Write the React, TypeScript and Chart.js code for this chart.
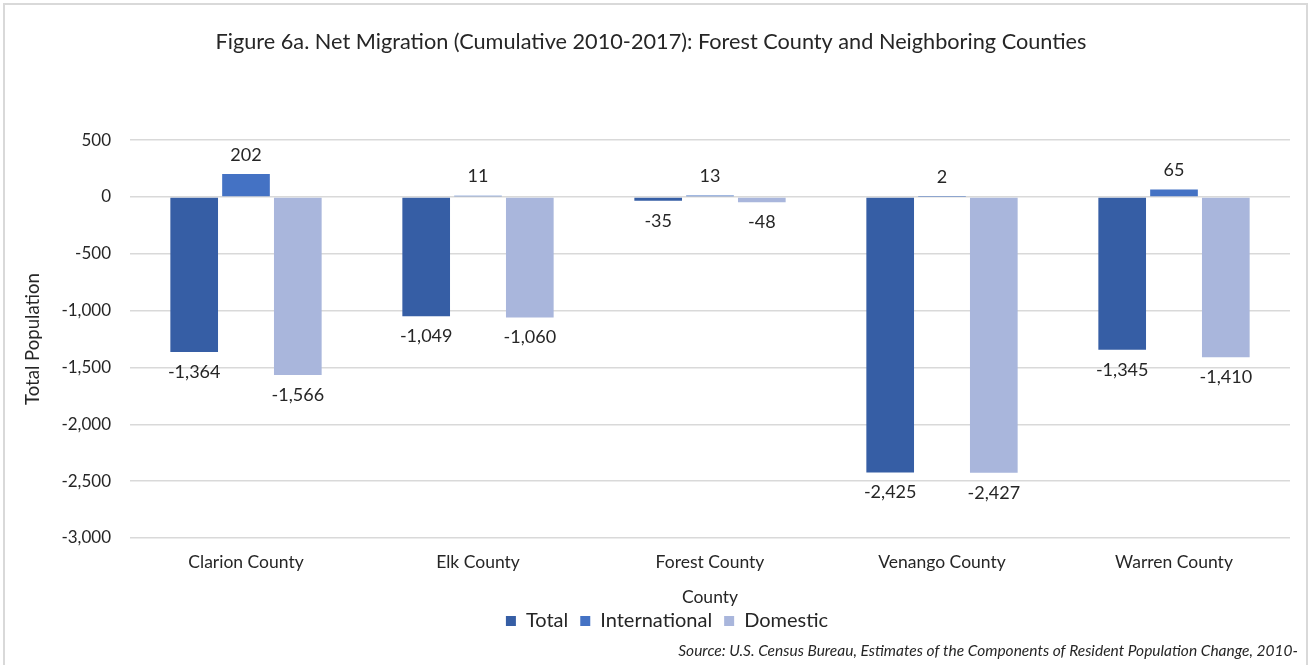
import React, { useEffect, useRef } from "react";
import { Chart, registerables } from "chart.js";

Chart.register(...registerables);

// ---- data ----
const counties = ["Clarion County", "Elk County", "Forest County", "Venango County", "Warren County"];
const seriesNames = ["Total", "International", "Domestic"];
const totalValues = [-1364, -1049, -35, -2425, -1345];
const internationalValues = [202, 11, 13, 2, 65];
const domesticValues = [-1566, -1060, -48, -2427, -1410];
const yMin = -3000;
const yMax = 500;
const yStep = 500;

const titleText = "Figure 6a. Net Migration (Cumulative 2010-2017): Forest County and Neighboring Counties";
const xTitle = "County";
const yTitle = "Total Population";
const sourceText = "Source: U.S. Census Bureau, Estimates of the Components of Resident Population Change, 2010-";

// ---- styles ----
const FONT = "Lato, 'Open Sans', sans-serif";
const TEXT = "#262626";
const colors = ["#365EA5", "#4472C4", "#A9B6DC"];
const GRID = "#D9D9D9";

const fmt = (v: number) => v.toLocaleString("en-US");

const dataLabelPlugin = {
  id: "dataLabels",
  afterDatasetsDraw(chart: any) {
    const ctx = chart.ctx;
    ctx.save();
    ctx.font = `18px ${FONT}`;
    ctx.fillStyle = TEXT;
    ctx.textAlign = "center";
    ctx.textBaseline = "middle";
    chart.data.datasets.forEach((ds: any, i: number) => {
      const meta = chart.getDatasetMeta(i);
      meta.data.forEach((bar: any, j: number) => {
        const v = ds.data[j] as number;
        const y = v >= 0 ? bar.y - 19 : bar.y + 20;
        ctx.fillText(fmt(v), bar.x, y);
      });
    });
    ctx.restore();
  },
};

const framePlugin = {
  id: "frame",
  afterLayout(chart: any) {
    if (chart.legend) {
      chart.legend.left += 16;
      chart.legend.right += 16;
    }
  },
  beforeDraw(chart: any) {
    const { ctx, width, height } = chart;
    ctx.save();
    ctx.fillStyle = "#ffffff";
    ctx.fillRect(0, 0, width, height);
    ctx.strokeStyle = GRID;
    ctx.lineWidth = 2;
    ctx.beginPath();
    ctx.moveTo(4, height);
    ctx.lineTo(4, 4);
    ctx.lineTo(width - 3, 4);
    ctx.lineTo(width - 3, height);
    ctx.stroke();
    ctx.restore();
  },
  afterDraw(chart: any) {
    const { ctx, width } = chart;
    ctx.save();
    ctx.font = `italic 15.5px ${FONT}`;
    ctx.fillStyle = TEXT;
    ctx.textAlign = "right";
    ctx.textBaseline = "middle";
    ctx.fillText(sourceText, width - 12, 651);
    ctx.restore();
  },
};

export default function App() {
  const ref = useRef<HTMLCanvasElement | null>(null);

  useEffect(() => {
    if (!ref.current) return;
    const values = [totalValues, internationalValues, domesticValues];
    const chart = new Chart(ref.current, {
      type: "bar",
      data: {
        labels: counties,
        datasets: seriesNames.map((name, i) => ({
          label: name,
          data: values[i],
          backgroundColor: colors[i],
          borderWidth: 0,
          categoryPercentage: 0.67,
          barPercentage: 0.92,
        })),
      },
      options: {
        animation: false,
        responsive: true,
        maintainAspectRatio: false,
        layout: { padding: { left: 12, right: 20, top: 0, bottom: 24 } },
        plugins: {
          title: {
            display: true,
            text: titleText,
            color: TEXT,
            font: { family: FONT, size: 21.7, weight: "normal" },
            padding: { top: 29, bottom: 85 },
          },
          legend: {
            position: "bottom",
            labels: {
              color: TEXT,
              font: { family: FONT, size: 20 },
              boxWidth: 10,
              boxHeight: 10,
              padding: 12,
            },
          },
          tooltip: { enabled: false },
        },
        scales: {
          x: {
            grid: { display: false, drawTicks: false },
            border: { display: false },
            ticks: { color: TEXT, font: { family: FONT, size: 17.5 }, padding: 14 },
            title: {
              display: true,
              text: xTitle,
              color: TEXT,
              font: { family: FONT, size: 17.5 },
              padding: { top: 4, bottom: -9 },
            },
            afterFit: (s: any) => {
              s.height = 61;
            },
          },
          y: {
            min: yMin,
            max: yMax,
            grid: { color: GRID, lineWidth: 1.5, drawTicks: false },
            border: { display: false },
            ticks: {
              stepSize: yStep,
              color: TEXT,
              font: { family: FONT, size: 17 },
              padding: 19,
              callback: (v: any) => fmt(Number(v)),
            },
            title: {
              display: true,
              text: yTitle,
              color: TEXT,
              font: { family: FONT, size: 18.6 },
              padding: { top: 10, bottom: 0 },
            },
            afterFit: (s: any) => {
              s.width = 118;
            },
          },
        },
      },
      plugins: [framePlugin, dataLabelPlugin],
    });
    return () => chart.destroy();
  }, []);

  return (
    <div style={{ position: "absolute", left: 0, top: 0, width: 1310, height: 665 }}>
      <canvas ref={ref} />
    </div>
  );
}
